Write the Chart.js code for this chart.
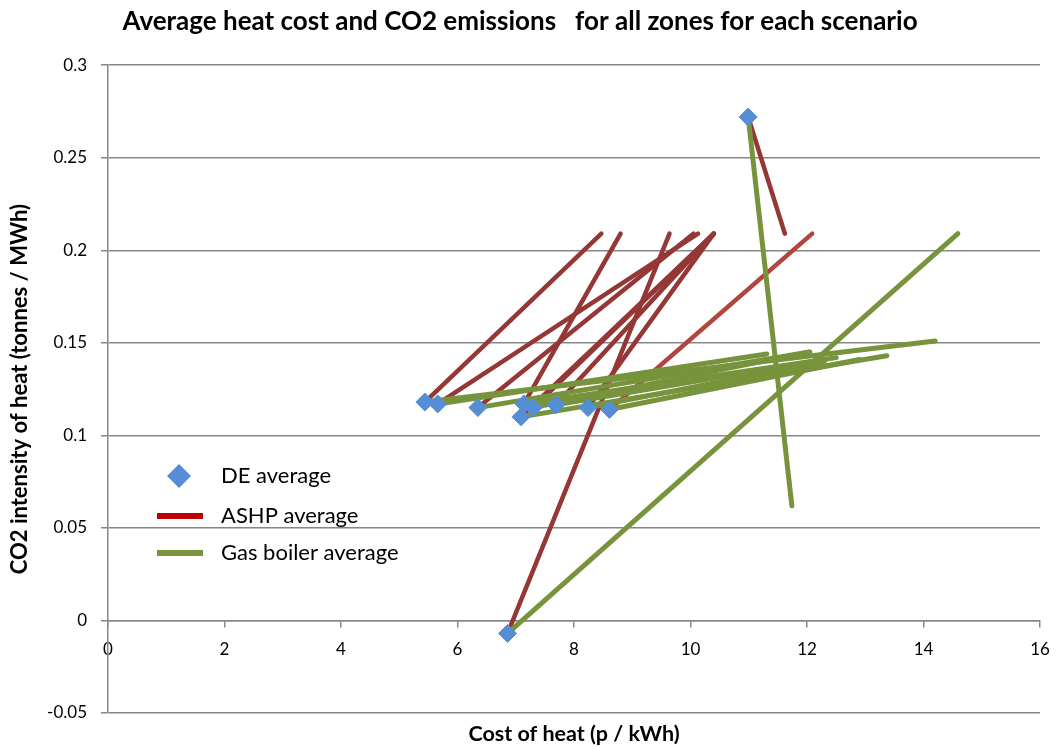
<!DOCTYPE html>
<html><head><meta charset="utf-8">
<script src="https://cdn.jsdelivr.net/npm/chart.js@4/dist/chart.umd.min.js"></script>
<style>html,body{margin:0;padding:0;background:#fff}#wrap{width:1056px;height:747px;position:relative}</style>
</head><body><div id="wrap"><canvas id="c"></canvas></div>
<script>
// DE average points (cost p/kWh, CO2 t/MWh)
const deX  = [5.44, 5.66, 6.35, 7.14, 7.30, 7.09, 7.69, 8.24, 8.61, 10.99, 6.86];
const deY  = [0.118, 0.117, 0.115, 0.117, 0.115, 0.110, 0.1165, 0.115, 0.114, 0.272, -0.007];
// ASHP average end points (one per DE point)
const ashpX = [8.47, 10.13, 10.05, 8.80, 10.40, 10.40, 10.40, 10.40, 12.09, 11.62, 9.64];
const ashpY = [0.209, 0.209, 0.209, 0.209, 0.209, 0.209, 0.209, 0.209, 0.209, 0.209, 0.209];
// Gas boiler average end points (one per DE point)
const gasX = [14.20, 11.31, 12.05, 12.50, 12.02, 13.37, 12.30, 12.30, 12.90, 11.74, 14.59];
const gasY = [0.151, 0.144, 0.145, 0.142, 0.145, 0.143, 0.141, 0.140, 0.141, 0.062, 0.209];
const legendLabels = ['DE average', 'ASHP average', 'Gas boiler average'];
const titleText = 'Average heat cost and CO2 emissions   for all zones for each scenario';
const xTitle = 'Cost of heat (p / kWh)';
const yTitle = 'CO2 intensity of heat (tonnes / MWh)';

const BLUE = '#558ED5', RED = '#953735', RED2 = '#B0463F', GREEN = '#77933C', GRID = '#878787';
const FONT = 'Lato, "Open Sans", sans-serif';

const datasets = [{
  label: legendLabels[0],
  data: deX.map((x, i) => ({x, y: deY[i]})),
  pointStyle: 'rectRot', pointRadius: 9, pointHoverRadius: 9,
  backgroundColor: BLUE, borderColor: BLUE, borderWidth: 1,
  showLine: false, order: 0
}];
deX.forEach((x, i) => {
  datasets.push({
    label: legendLabels[2],
    data: [{x, y: deY[i]}, {x: gasX[i], y: gasY[i]}],
    showLine: true, borderColor: GREEN, backgroundColor: GREEN, borderWidth: 5,
    borderCapStyle: 'round', pointRadius: 0, order: 1
  });
});
deX.forEach((x, i) => {
  datasets.push({
    label: legendLabels[1],
    data: [{x, y: deY[i]}, {x: ashpX[i], y: ashpY[i]}],
    showLine: true, borderColor: (i === 8 ? RED2 : RED), backgroundColor: RED, borderWidth: 4.5,
    borderCapStyle: 'round', pointRadius: 0, order: 2
  });
});

const legendPlugin = {
  id: 'customLegend',
  afterDraw(chart) {
    const ctx = chart.ctx;
    ctx.save();
    const lx = 157, tx = 221, ys = [476, 516, 553];
    ctx.fillStyle = BLUE;
    ctx.beginPath();
    ctx.moveTo(179, ys[0] - 12); ctx.lineTo(191, ys[0]); ctx.lineTo(179, ys[0] + 12); ctx.lineTo(167, ys[0]);
    ctx.closePath(); ctx.fill();
    ctx.lineWidth = 6; ctx.lineCap = 'butt';
    ctx.strokeStyle = '#C00000';
    ctx.beginPath(); ctx.moveTo(lx, ys[1]); ctx.lineTo(lx + 46, ys[1]); ctx.stroke();
    ctx.strokeStyle = GREEN;
    ctx.beginPath(); ctx.moveTo(lx, ys[2]); ctx.lineTo(lx + 46, ys[2]); ctx.stroke();
    ctx.fillStyle = '#000';
    ctx.font = '22px ' + FONT;
    ctx.textBaseline = 'middle'; ctx.textAlign = 'left';
    legendLabels.forEach((t, i) => ctx.fillText(t, tx, ys[i]));
    ctx.restore();
  }
};

new Chart(document.getElementById('c'), {
  type: 'scatter',
  data: { datasets },
  options: {
    responsive: true, maintainAspectRatio: false, animation: false,
    layout: { padding: { top: 0, left: 0, right: 16, bottom: 34 } },
    plugins: {
      legend: { display: false },
      tooltip: { enabled: false },
      title: {
        display: true, text: titleText, color: '#000',
        font: { family: FONT, size: 26, weight: 'bold' },
        padding: { top: 6, bottom: 28 }
      }
    },
    scales: {
      x: {
        type: 'linear', position: { y: 0 }, min: 0, max: 16,
        afterFit: s => { s.paddingRight = 0; s.paddingLeft = 0; },
        ticks: { stepSize: 2, color: '#000', padding: 13, font: { family: FONT, size: 17 }, maxRotation: 0 },
        grid: { display: true, drawOnChartArea: false, drawTicks: true, tickLength: 6, color: GRID, lineWidth: 1.5 },
        border: { display: true, color: GRID, width: 1.5 },
        title: { display: true, text: xTitle, color: '#000', font: { family: FONT, size: 21.5, weight: 'bold' }, padding: { top: 48, bottom: 0 } }
      },
      y: {
        type: 'linear', position: 'left', min: -0.05, max: 0.3,
        afterFit: s => { s.width = 108; },
        ticks: { stepSize: 0.05, color: '#000', padding: 14, font: { family: FONT, size: 17 },
          callback: v => String(+v.toFixed(2)) },
        grid: { color: GRID, lineWidth: 1.5, drawTicks: true, tickLength: 7 },
        border: { display: true, color: GRID, width: 1.5 },
        title: { display: true, text: yTitle, color: '#000', font: { family: FONT, size: 22, weight: 'bold' }, padding: { top: 7, bottom: 0 } }
      }
    }
  },
  plugins: [legendPlugin]
});
</script>
</body></html>
